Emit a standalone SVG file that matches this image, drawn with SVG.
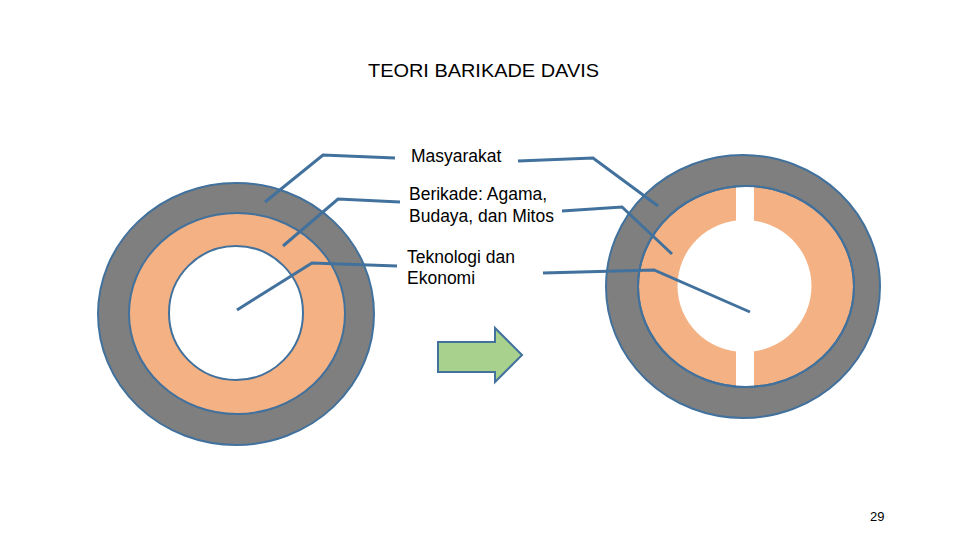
<svg xmlns="http://www.w3.org/2000/svg" width="960" height="540" viewBox="0 0 960 540">
<style>
.outer{fill:#7f7f7f;stroke:#41719c;stroke-width:2}
.mid{fill:#f4b183;stroke:#41719c;stroke-width:2}
.ring{fill:none;stroke:#41719c;stroke-width:2}
.lead{fill:none;stroke:#41719c;stroke-width:3;stroke-linejoin:miter}
.lbl{font-family:"Liberation Sans",Arial,sans-serif;font-size:17.5px;fill:#000}
.title{font-family:"Liberation Sans",Arial,sans-serif;font-size:19px;fill:#000}
</style>
<rect width="960" height="540" fill="#fff"/>
<text class="title" x="368" y="77" textLength="231" lengthAdjust="spacingAndGlyphs">TEORI BARIKADE DAVIS</text>
<g id="left-circle">
<ellipse class="outer" cx="236" cy="314" rx="138" ry="131"/>
<ellipse class="mid" cx="237" cy="313.5" rx="108" ry="100.5"/>
<ellipse cx="236" cy="313" rx="67" ry="67" fill="#fff" stroke="#41719c" stroke-width="2"/>
</g>
<g id="right-circle">
<ellipse class="outer" cx="743" cy="286.5" rx="137" ry="131.5"/>
<ellipse class="mid" cx="746" cy="286.5" rx="108" ry="100.5"/>
<ellipse cx="744.5" cy="286" rx="67" ry="66" fill="#fff"/>
<rect x="736" y="187" width="18" height="40" fill="#fff"/>
<rect x="736" y="346" width="18" height="41" fill="#fff"/>
<ellipse class="ring" cx="746" cy="286.5" rx="108" ry="100.5"/>
</g>
<g id="arrow">
<polygon points="438,342 495,342 495,328 522,355 495,382 495,372 438,372" fill="#a9d18e" stroke="#41719c" stroke-width="2"/>
</g>
<g id="label-masyarakat"><text class="lbl" x="411" y="162">Masyarakat</text></g>
<g id="label-berikade"><text class="lbl" x="409" y="200">Berikade: Agama,</text><text class="lbl" x="409" y="222">Budaya, dan Mitos</text></g>
<g id="label-teknologi"><text class="lbl" x="407" y="263">Teknologi dan</text><text class="lbl" x="407" y="284">Ekonomi</text></g>
<g id="connectors">
<polyline class="lead" points="265,202 323,155 395,158"/>
<polyline class="lead" points="283,246 338,199 400,202"/>
<polyline class="lead" points="237,310 312,263 397,266"/>
<polyline class="lead" points="518,161 593,158 658,206"/>
<polyline class="lead" points="562,211 622,207 672,254"/>
<polyline class="lead" points="543,273 654,270 750,312"/>
</g>
<text x="870" y="521" font-family="'Liberation Sans',Arial,sans-serif" font-size="13" fill="#000">29</text>
</svg>
